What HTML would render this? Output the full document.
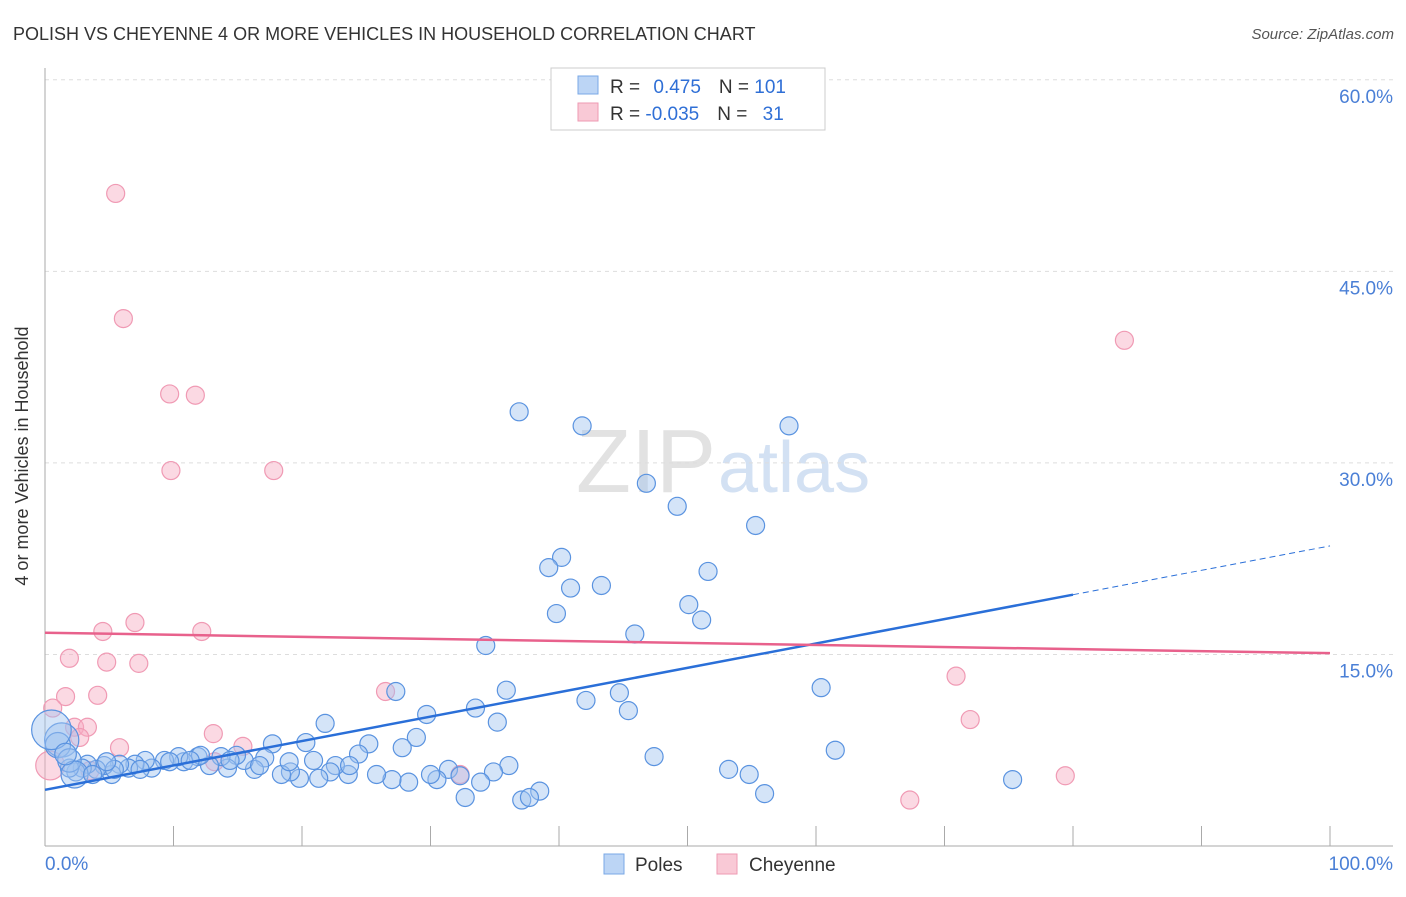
<!DOCTYPE html>
<html><head><meta charset="utf-8"><style>
body{margin:0;background:#fff;font-family:"Liberation Sans",sans-serif}
svg text{font-family:"Liberation Sans",sans-serif}
</style></head><body>
<svg id="c" width="1406" height="892" xmlns="http://www.w3.org/2000/svg">
<text x="13" y="40" font-size="18" fill="#333">POLISH VS CHEYENNE 4 OR MORE VEHICLES IN HOUSEHOLD CORRELATION CHART</text>
<text x="1394" y="39" font-size="15" fill="#555" text-anchor="end" font-style="italic">Source: ZipAtlas.com</text>
<text x="28" y="456" font-size="18" fill="#333" text-anchor="middle" transform="rotate(-90 28 456)">4 or more Vehicles in Household</text>
<text x="716" y="492" font-size="90" fill="#e2e2e2" text-anchor="end" font-family="Liberation Serif">ZIP</text>
<text x="718" y="492" font-size="72" fill="#d3e1f3">atlas</text>
<g id="grid"></g><g id="pts"></g><g id="lines"></g>
<g>
<rect x="551" y="68" width="274" height="62" fill="#fff" stroke="#ccc"/>
<rect x="578" y="76" width="20" height="18" fill="#bcd5f5" stroke="#7aa8e6"/>
<rect x="578" y="103" width="20" height="18" fill="#f9c9d6" stroke="#ee9ab3"/>
<text x="610" y="93" font-size="19" fill="#333">R = <tspan fill="#2f6fd6" dx="8">0.475</tspan><tspan dx="18" fill="#333">N = </tspan><tspan fill="#2f6fd6">101</tspan></text>
<text x="610" y="120" font-size="19" fill="#333">R = <tspan fill="#2f6fd6">-0.035</tspan><tspan dx="18" fill="#333">N = </tspan><tspan fill="#2f6fd6" dx="10">31</tspan></text>
</g>
<g>
<rect x="604" y="854" width="20" height="20" fill="#bcd5f5" stroke="#7aa8e6"/>
<text x="635" y="871" font-size="19" fill="#333">Poles</text>
<rect x="717" y="854" width="20" height="20" fill="#f9c9d6" stroke="#ee9ab3"/>
<text x="749" y="871" font-size="19" fill="#333">Cheyenne</text>
</g>
</svg>
<script>
const yTicks=[15,30,45,60];
const yTickLabels=["15.0%","30.0%","45.0%","60.0%"];
const xLabels=["0.0%","100.0%"];
const polesX=[36.9,41.8,57.9,46.8,49.2,55.3,40.2,39.2,51.6,40.9,43.3,39.8,50.1,51.1,45.9,34.3,60.4,27.3,35.9,42.1,44.7,45.4,33.5,29.7,35.2,21.8,61.5,47.4,53.2,54.8,56.0,75.3,28.9,27.8,25.2,24.4,20.3,17.7,38.5,37.1,37.7,32.7,36.1,34.9,33.9,31.4,30.5,32.3,28.3,27.0,25.8,23.6,22.6,22.2,21.3,19.8,19.1,18.4,20.9,19.0,17.1,16.3,15.5,14.9,14.2,13.7,12.8,11.9,10.8,10.4,9.3,8.3,7.8,7.0,6.5,5.8,5.2,4.6,4.0,3.3,2.9,2.4,1.9,1.3,1.0,0.5,1.9,2.3,1.6,3.7,12.1,7.4,16.7,23.7,9.7,30.0,14.4,11.3,5.4,4.8];
const polesY=[34.0,32.9,32.9,28.4,26.6,25.1,22.6,21.8,21.5,20.2,20.4,18.2,18.9,17.7,16.6,15.7,12.4,12.1,12.2,11.4,12.0,10.6,10.8,10.3,9.7,9.6,7.5,7.0,6.0,5.6,4.1,5.2,8.5,7.7,8.0,7.2,8.1,8.0,4.3,3.6,3.8,3.8,6.3,5.8,5.0,6.0,5.2,5.5,5.0,5.2,5.6,5.6,6.3,5.8,5.3,5.3,5.8,5.6,6.7,6.6,6.9,6.0,6.7,7.1,6.1,7.0,6.3,7.0,6.6,7.0,6.7,6.1,6.7,6.4,6.1,6.4,5.6,6.3,6.0,6.4,6.1,5.8,6.1,8.3,7.9,9.1,6.7,5.6,7.2,5.6,7.1,6.0,6.3,6.3,6.6,5.6,6.7,6.7,6.0,6.6];
const polesW=[1,1,1,1,1,1,1,1,1,1,1,1,1,1,1,1,1,1,1,1,1,1,1,1,1,1,1,1,1,1,1,1,1,1,1,1,1,1,1,1,1,1,1,1,1,1,1,1,1,1,1,1,1,1,1,1,1,1,1,1,1,1,1,1,1,1,1,1,1,1,1,1,1,1,1,1,1,1,1,1,1,1,1,1.9,1.4,2.2,1.3,1.5,1.2,1,1,1,1,1,1,1,1,1,1,1];
const cheyX=[5.5,6.1,9.7,11.7,9.8,17.8,84.0,7.0,4.5,12.2,1.9,4.8,7.3,1.6,4.1,26.5,0.6,2.3,3.3,2.7,5.8,15.4,13.1,70.9,72.0,79.4,67.3,32.3,0.4,3.5,13.2];
const cheyY=[51.1,41.3,35.4,35.3,29.4,29.4,39.6,17.5,16.8,16.8,14.7,14.4,14.3,11.7,11.8,12.1,10.8,9.3,9.3,8.5,7.7,7.8,8.8,13.3,9.9,5.5,3.6,5.6,6.3,5.9,6.6];
const cheyW=[1,1,1,1,1,1,1,1,1,1,1,1,1,1,1,1,1,1,1,1,1,1,1,1,1,1,1,1,1.6,1,1];
const polesTrend=[4.4,23.5]; const polesSolidEnd=80;
const cheyTrend=[16.7,15.1];
const NS="http://www.w3.org/2000/svg";
const X=v=>45+v*12.85, Y=v=>846-v*12.77;
function mk(t,a,p){const e=document.createElementNS(NS,t);for(const k in a)e.setAttribute(k,a[k]);p.appendChild(e);return e;}
const g=document.getElementById('grid');
yTicks.forEach((t,i)=>{
 const l=mk('line',{x1:45,x2:1393,y1:Y(t),y2:Y(t),stroke:'#ddd','stroke-dasharray':'4 4'},g);
 
 
 const tx=mk('text',{x:1393,y:Y(t)+23,'font-size':19,fill:'#4a7fd6','text-anchor':'end'},g);tx.textContent=yTickLabels[i];
 
 
});
mk('line',{x1:45,x2:45,y1:68,y2:846,stroke:'#aaa'},g);
mk('line',{x1:45,x2:1393,y1:846,y2:846,stroke:'#aaa'},g);
for(let i=0;i<=10;i++){mk('line',{x1:X(i*10),x2:X(i*10),y1:826,y2:846,stroke:'#aaa'},g);}
const a=mk('text',{x:45,y:870,'font-size':19,fill:'#4a7fd6'},g);a.textContent=xLabels[0];


const b=mk('text',{x:1393,y:870,'font-size':19,fill:'#4a7fd6','text-anchor':'end'},g);b.textContent=xLabels[1];


const p=document.getElementById('pts');
cheyX.forEach((v,i)=>{const c=mk('circle',{cx:X(v),cy:Y(cheyY[i]),r:9*cheyW[i],fill:'rgba(246,170,194,0.45)',stroke:'#f09ab4','stroke-width':1.2},p);
 
 });
polesX.forEach((v,i)=>{const c=mk('circle',{cx:X(v),cy:Y(polesY[i]),r:9*polesW[i],fill:'rgba(160,196,240,0.45)',stroke:'#5a93e0','stroke-width':1.2},p);
 
 });
const L=document.getElementById('lines');
const s=(polesTrend[1]-polesTrend[0])/100;
let l1=mk('line',{x1:X(0),y1:Y(polesTrend[0]),x2:X(polesSolidEnd),y2:Y(polesTrend[0]+s*polesSolidEnd),stroke:'#2a6fd8','stroke-width':2.5},L);


let l2=mk('line',{x1:X(polesSolidEnd),y1:Y(polesTrend[0]+s*polesSolidEnd),x2:X(100),y2:Y(polesTrend[1]),stroke:'#2a6fd8','stroke-width':1,'stroke-dasharray':'6 4'},L);


let l3=mk('line',{x1:X(0),y1:Y(cheyTrend[0]),x2:X(100),y2:Y(cheyTrend[1]),stroke:'#e8618c','stroke-width':2.5},L);


</script>
</body></html>
